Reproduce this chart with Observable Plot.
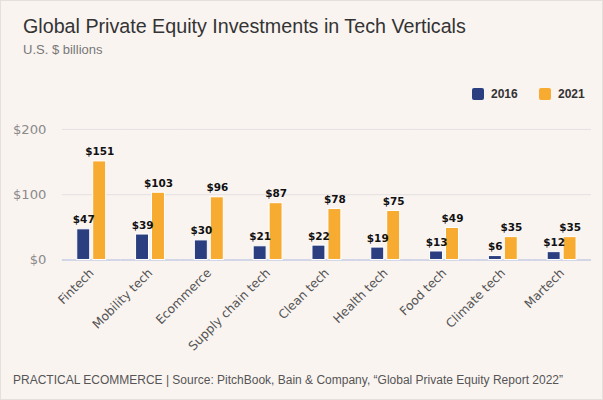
<!DOCTYPE html>
<html>
<head>
<meta charset="utf-8">
<script src="https://cdn.jsdelivr.net/npm/d3@7"></script>
<script src="https://cdn.jsdelivr.net/npm/@observablehq/plot@0.6"></script>
<style>
  html, body { margin: 0; padding: 0; background: #faf4f1; }
  #card { position: relative; width: 603px; height: 400px; box-sizing: border-box; border: 1px solid #e6e0dd; background: #faf4f1; overflow: hidden; font-family: "Liberation Sans", Arial, sans-serif; }
  .title { position: absolute; left: 22px; top: 14px; font-size: 19.7px; line-height: 22px; color: #333; white-space: nowrap; }
  .sub { position: absolute; left: 22px; top: 41px; font-size: 13px; line-height: 15px; color: #777; }
  .legend { position: absolute; top: 86px; left: 0; width: 603px; height: 14px; }
  .legend .sw { position: absolute; width: 12px; height: 12px; border-radius: 2px; top: 1px; }
  .legend .lb { position: absolute; top: 0; font-size: 12px; line-height: 14px; font-weight: bold; color: #333; }
  #chart { position: absolute; left: 0; top: 105px; }
  .footer { position: absolute; left: 12px; top: 372px; font-size: 12px; line-height: 15px; color: #555; white-space: nowrap; }
  #chart [aria-label^="y-axis"] text { fill: #8a8a8a; font-size: 13.2px; }
  #chart [aria-label^="fx-axis"] text { fill: #555; font-size: 12.3px; }
</style>
</head>
<body>
<div id="card">
  <div class="title">Global Private Equity Investments in Tech Verticals</div>
  <div class="sub">U.S. $ billions</div>
  <div class="legend" id="legend"></div>
  <div id="chart"></div>
  <div class="footer">PRACTICAL ECOMMERCE | Source: PitchBook, Bain &amp; Company, “Global Private Equity Report 2022”</div>
</div>
<script>
const categories = ["Fintech", "Mobility tech", "Ecommerce", "Supply chain tech", "Clean tech", "Health tech", "Food tech", "Climate tech", "Martech"];
const values2016 = [47, 39, 30, 21, 22, 19, 13, 6, 12];
const values2021 = [151, 103, 96, 87, 78, 75, 49, 35, 35];
const years = ["2016", "2021"];
const colors = ["#2b3f80", "#f7ab30"];
const yTicks = [0, 100, 200];
const gridValues = [100, 200];

const data = categories.flatMap((c, i) => [
  {category: c, year: years[0], value: values2016[i]},
  {category: c, year: years[1], value: values2021[i]}
]);

// legend
const legend = document.getElementById("legend");
const legendLeft = [471, 538];
years.forEach((y, i) => {
  const sw = document.createElement("div");
  sw.className = "sw";
  sw.style.left = legendLeft[i] + "px";
  sw.style.background = colors[i];
  const lb = document.createElement("div");
  lb.className = "lb";
  lb.style.left = (legendLeft[i] + 19) + "px";
  lb.textContent = y;
  legend.appendChild(sw);
  legend.appendChild(lb);
});

const chart = Plot.plot({
  width: 603,
  height: 250,
  marginLeft: 60,
  marginRight: 11,
  marginTop: 23,
  marginBottom: 96,
  style: {background: "transparent", fontFamily: "DejaVu Sans", fontSize: "12px", color: "#333", overflow: "visible"},
  facet: {data: data, x: "category"},
  fx: {domain: categories, padding: 0, label: null, tickRotate: -45, tickSize: 0, tickPadding: 11},
  x: {domain: years, axis: null, paddingInner: 0.18, paddingOuter: 0.83},
  y: {domain: [0, 200], ticks: yTicks, tickFormat: d => "$" + d, tickSize: 0, tickPadding: 16, label: null},
  color: {domain: years, range: colors},
  marks: [
    Plot.ruleY(gridValues, {stroke: "#e4e0e1", strokeWidth: 1}),
    Plot.ruleY([0], {stroke: "#c5cce3", strokeWidth: 1.5}),
    Plot.barY(data, {x: "year", y: "value", fill: "year", stroke: "white", strokeWidth: 1}),
    Plot.text(data, {x: "year", y: "value", text: d => "$" + d.value, dy: -6, lineAnchor: "bottom", fontWeight: "bold", fontSize: 10.5, fill: "#111"})
  ]
});
document.getElementById("chart").appendChild(chart);
</script>
</body>
</html>
